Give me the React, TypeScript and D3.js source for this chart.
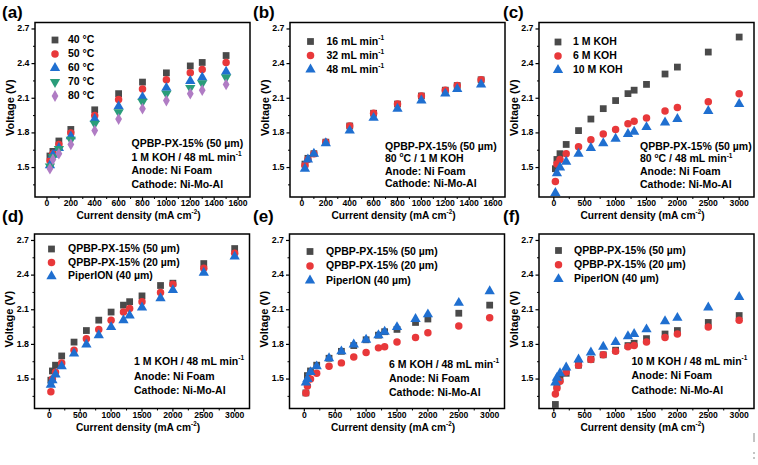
import React from "react";
import * as d3 from "d3";

// ---------- data ----------
const xA = [25, 50, 100, 200, 400, 600, 800, 1000, 1200, 1300, 1500];
const xC = [25, 50, 100, 200, 400, 600, 800, 1000, 1200, 1300, 1500, 1800, 2000, 2500, 3000];

const a40 = [1.60, 1.64, 1.73, 1.83, 2.00, 2.14, 2.24, 2.32, 2.38, 2.41, 2.47];
const a50 = [1.56, 1.62, 1.70, 1.80, 1.95, 2.09, 2.18, 2.26, 2.32, 2.35, 2.41];
const a60 = [1.52, 1.61, 1.67, 1.77, 1.92, 2.03, 2.11, 2.19, 2.25, 2.28, 2.33];
const a70 = [1.51, 1.59, 1.66, 1.74, 1.88, 1.98, 2.07, 2.14, 2.19, 2.23, 2.28];
const a80 = [1.49, 1.57, 1.62, 1.70, 1.82, 1.92, 2.01, 2.08, 2.14, 2.17, 2.22];

const b16 = [1.53, 1.58, 1.62, 1.72, 1.86, 1.97, 2.05, 2.12, 2.17, 2.21, 2.26];
const b32 = [1.52, 1.57, 1.62, 1.72, 1.86, 1.97, 2.05, 2.12, 2.17, 2.21, 2.26];
const b48 = [1.49, 1.57, 1.62, 1.71, 1.82, 1.93, 2.01, 2.08, 2.14, 2.18, 2.22];

const c1M = [1.49, 1.57, 1.62, 1.70, 1.82, 1.92, 2.01, 2.08, 2.14, 2.17, 2.22, 2.31, 2.37, 2.50, 2.63];
const c6M = [1.38, 1.53, 1.57, 1.62, 1.68, 1.74, 1.79, 1.83, 1.88, 1.90, 1.93, 1.99, 2.02, 2.07, 2.14];
const c10M = [1.28, 1.45, 1.50, 1.55, 1.62, 1.67, 1.71, 1.75, 1.79, 1.81, 1.85, 1.89, 1.92, 1.99, 2.05];

const d50 = [1.49, 1.57, 1.62, 1.70, 1.82, 1.92, 2.01, 2.08, 2.14, 2.17, 2.22, 2.31, 2.33, 2.50, 2.63];
const d20 = [1.39, 1.50, 1.56, 1.64, 1.75, 1.85, 1.93, 2.01, 2.08, 2.11, 2.17, 2.25, 2.32, 2.46, 2.59];
const dPi = [1.45, 1.49, 1.54, 1.61, 1.72, 1.80, 1.88, 1.95, 2.01, 2.05, 2.12, 2.20, 2.27, 2.42, 2.56];

const e50 = [1.38, 1.53, 1.57, 1.62, 1.68, 1.74, 1.79, 1.84, 1.88, 1.91, 1.93, 1.99, 2.02, 2.07, 2.14];
const e20 = [1.38, 1.44, 1.50, 1.55, 1.61, 1.64, 1.69, 1.73, 1.77, 1.78, 1.82, 1.86, 1.90, 1.96, 2.03];
const ePi = [1.47, 1.50, 1.56, 1.61, 1.68, 1.74, 1.80, 1.84, 1.88, 1.91, 1.95, 2.02, 2.06, 2.16, 2.26];

const f50 = [1.28, 1.45, 1.50, 1.55, 1.62, 1.67, 1.71, 1.75, 1.79, 1.81, 1.85, 1.89, 1.92, 1.99, 2.05];
const f20 = [1.37, 1.42, 1.48, 1.56, 1.62, 1.67, 1.71, 1.74, 1.78, 1.79, 1.82, 1.86, 1.89, 1.95, 2.01];
const fPi = [1.47, 1.51, 1.55, 1.60, 1.67, 1.73, 1.78, 1.82, 1.87, 1.89, 1.93, 2.00, 2.03, 2.12, 2.21];

const yTicks = [1.5, 1.8, 2.1, 2.4, 2.7];
const xTicksA = [0, 200, 400, 600, 800, 1000, 1200, 1400, 1600];
const xTicksC = [0, 500, 1000, 1500, 2000, 2500, 3000];

const tempNames = ["40 °C", "50 °C", "60 °C", "70 °C", "80 °C"];
const flowNames = ["16 mL min", "32 mL min", "48 mL min"];
const kohNames = ["1 M KOH", "6 M KOH", "10 M KOH"];
const memNames = ["QPBP-PX-15% (50 µm)", "QPBP-PX-15% (20 µm)", "PiperION (40 µm)"];

// ---------- styles ----------
const GRAY = "#4a4a4a";
const RED = "#e8383a";
const BLUE = "#1f6fd0";
const GREEN = "#2a9d7a";
const PURPLE = "#b07cc4";
const FONT = "'Liberation Sans', Arial, sans-serif";

type Shape = "square" | "circle" | "up" | "down" | "diamond";
const markerPath = (s: Shape) => {
  const map: Record<Shape, [d3.SymbolType, number]> = {
    square: [d3.symbolSquare, 46],
    circle: [d3.symbolCircle, 44],
    up: [d3.symbolTriangle, 46],
    down: [d3.symbolTriangle, 46],
    diamond: [d3.symbolDiamond, 40],
  };
  const [t, size] = map[s];
  return d3.symbol().type(t).size(size)() as string;
};

type Series = { name: string; sup?: string; values: number[]; color: string; shape: Shape };
type Ann = { parts: { t: string; sup?: boolean }[] };
type Panel = {
  label: string;
  left: number;
  top: number;
  xDomain: [number, number];
  xs: number[];
  xTicks: number[];
  xMinor: number;
  series: Series[];
  legend: { mx: number; tx: number; y0: number; dy: number };
  ann: { x: number; y0: number; dy: number; lines: Ann[] };
  labelPos: [number, number];
  titleDy: number;
};

const W = 215;
const H = 174.5;
const yDomain: [number, number] = [1.245, 2.756];

const mn = (t: string): Ann => ({ parts: [{ t }, { t: "-1", sup: true }] });

const panels: Panel[] = [
  {
    label: "(a)", left: 35, top: 22.5, xDomain: [-100, 1700], xs: xA, xTicks: xTicksA, xMinor: 100,
    series: [
      { name: tempNames[0], values: a40, color: GRAY, shape: "square" },
      { name: tempNames[1], values: a50, color: RED, shape: "circle" },
      { name: tempNames[2], values: a60, color: BLUE, shape: "up" },
      { name: tempNames[3], values: a70, color: GREEN, shape: "down" },
      { name: tempNames[4], values: a80, color: PURPLE, shape: "diamond" },
    ],
    legend: { mx: 55, tx: 68, y0: 40, dy: 14 },
    ann: { x: 131.5, y0: 144, dy: 13.5, lines: [
      { parts: [{ t: "QPBP-PX-15% (50 µm)" }] },
      mn("1 M KOH / 48 mL min"),
      { parts: [{ t: "Anode: Ni Foam" }] },
      { parts: [{ t: "Cathode: Ni-Mo-Al" }] },
    ] },
    labelPos: [2, 18],
    titleDy: 18.5,
  },
  {
    label: "(b)", left: 290, top: 22.5, xDomain: [-100, 1700], xs: xA, xTicks: xTicksA, xMinor: 100,
    series: [
      { name: flowNames[0], sup: "-1", values: b16, color: GRAY, shape: "square" },
      { name: flowNames[1], sup: "-1", values: b32, color: RED, shape: "circle" },
      { name: flowNames[2], sup: "-1", values: b48, color: BLUE, shape: "up" },
    ],
    legend: { mx: 310.5, tx: 326.5, y0: 41.5, dy: 14 },
    ann: { x: 385, y0: 146.5, dy: 12.5, lines: [
      { parts: [{ t: "QPBP-PX-15% (50 µm)" }] },
      { parts: [{ t: "80 " }, { t: "o", sup: true }, { t: "C / 1 M KOH" }] },
      { parts: [{ t: "Anode: Ni Foam" }] },
      { parts: [{ t: "Cathode: Ni-Mo-Al" }] },
    ] },
    labelPos: [253, 18],
    titleDy: 18.5,
  },
  {
    label: "(c)", left: 539, top: 22.5, xDomain: [-240, 3240], xs: xC, xTicks: xTicksC, xMinor: 250,
    series: [
      { name: kohNames[0], values: c1M, color: GRAY, shape: "square" },
      { name: kohNames[1], values: c6M, color: RED, shape: "circle" },
      { name: kohNames[2], values: c10M, color: BLUE, shape: "up" },
    ],
    legend: { mx: 558, tx: 573, y0: 42, dy: 14 },
    ann: { x: 640, y0: 146.5, dy: 12.7, lines: [
      { parts: [{ t: "QPBP-PX-15% (50 µm)" }] },
      { parts: [{ t: "80 " }, { t: "o", sup: true }, { t: "C / 48 mL min" }, { t: "-1", sup: true }] },
      { parts: [{ t: "Anode: Ni Foam" }] },
      { parts: [{ t: "Cathode: Ni-Mo-Al" }] },
    ] },
    labelPos: [503, 18],
    titleDy: 18.5,
  },
  {
    label: "(d)", left: 34.5, top: 234, xDomain: [-240, 3240], xs: xC, xTicks: xTicksC, xMinor: 250,
    series: [
      { name: memNames[0], values: d50, color: GRAY, shape: "square" },
      { name: memNames[1], values: d20, color: RED, shape: "circle" },
      { name: memNames[2], values: dPi, color: BLUE, shape: "up" },
    ],
    legend: { mx: 51.5, tx: 68, y0: 249, dy: 13.6 },
    ann: { x: 134, y0: 362, dy: 14.5, lines: [
      mn("1 M KOH / 48 mL min"),
      { parts: [{ t: "Anode: Ni Foam" }] },
      { parts: [{ t: "Cathode: Ni-Mo-Al" }] },
    ] },
    labelPos: [2, 222],
    titleDy: 19,
  },
  {
    label: "(e)", left: 289.5, top: 234, xDomain: [-240, 3240], xs: xC, xTicks: xTicksC, xMinor: 250,
    series: [
      { name: memNames[0], values: e50, color: GRAY, shape: "square" },
      { name: memNames[1], values: e20, color: RED, shape: "circle" },
      { name: memNames[2], values: ePi, color: BLUE, shape: "up" },
    ],
    legend: { mx: 310, tx: 326, y0: 251.5, dy: 14.5 },
    ann: { x: 389, y0: 364.5, dy: 14, lines: [
      mn("6 M KOH / 48 mL min"),
      { parts: [{ t: "Anode: Ni Foam" }] },
      { parts: [{ t: "Cathode: Ni-Mo-Al" }] },
    ] },
    labelPos: [253, 222],
    titleDy: 19,
  },
  {
    label: "(f)", left: 539, top: 234, xDomain: [-240, 3240], xs: xC, xTicks: xTicksC, xMinor: 250,
    series: [
      { name: memNames[0], values: f50, color: GRAY, shape: "square" },
      { name: memNames[1], values: f20, color: RED, shape: "circle" },
      { name: memNames[2], values: fPi, color: BLUE, shape: "up" },
    ],
    legend: { mx: 558.5, tx: 574, y0: 250.5, dy: 14.3 },
    ann: { x: 631.5, y0: 362, dy: 14.3, lines: [
      mn("10 M KOH / 48 mL min"),
      { parts: [{ t: "Anode: Ni Foam" }] },
      { parts: [{ t: "Cathode: Ni-Mo-Al" }] },
    ] },
    labelPos: [503, 222],
    titleDy: 19,
  },
];

const Marker = ({ x, y, s, color }: { x: number; y: number; s: Shape; color: string }) => (
  <path
    d={markerPath(s)}
    transform={`translate(${x},${y})${s === "down" ? " rotate(180)" : ""}`}
    fill={color}
  />
);

const SupText = ({ x, y, parts, size, anchor }: { x: number; y: number; parts: { t: string; sup?: boolean }[]; size: number; anchor?: string }) => (
  <text x={x} y={y} fontFamily={FONT} fontWeight="bold" fontSize={size} dominantBaseline="middle" textAnchor={anchor || "start"} fill="#000">
    {parts.map((p, i) =>
      p.sup ? (
        <tspan key={i} fontSize={size * 0.62} dy={-size * 0.34}>{p.t}</tspan>
      ) : (
        <tspan key={i} dy={i > 0 && parts[i - 1].sup ? size * 0.34 : 0}>{p.t}</tspan>
      )
    )}
  </text>
);

const PanelView = ({ p }: { p: Panel }) => {
  const x = d3.scaleLinear().domain(p.xDomain).range([p.left, p.left + W]);
  const y = d3.scaleLinear().domain(yDomain).range([p.top + H, p.top]);
  const bottom = p.top + H;
  const xMinorTicks = d3.range(Math.ceil(p.xDomain[0] / p.xMinor) * p.xMinor, p.xDomain[1] + 1e-9, p.xMinor)
    .filter((v) => !p.xTicks.includes(v) && v > p.xDomain[0] && v < p.xDomain[1]);
  const yMinor = d3.range(1.35, 2.76, 0.3);
  const cx = p.left + W / 2;
  return (
    <g>
      <text x={p.labelPos[0]} y={p.labelPos[1]} fontFamily={FONT} fontWeight="bold" fontSize={17}>{p.label}</text>
      {/* ticks */}
      {p.xTicks.map((t) => (
        <g key={"x" + t}>
          <line x1={x(t)} x2={x(t)} y1={bottom} y2={bottom + 3} stroke="#000" strokeWidth={1.2} />
          <text x={x(t)} y={bottom + 7} textAnchor="middle" dominantBaseline="middle" fontFamily={FONT} fontWeight="bold" fontSize={8.6}>{t}</text>
        </g>
      ))}
      {xMinorTicks.map((t) => (
        <line key={"xm" + t} x1={x(t)} x2={x(t)} y1={bottom} y2={bottom + 2} stroke="#000" strokeWidth={1} />
      ))}
      {yTicks.map((t) => (
        <g key={"y" + t}>
          <line x1={p.left - 3.5} x2={p.left} y1={y(t)} y2={y(t)} stroke="#000" strokeWidth={1.2} />
          <text x={p.left - 5.5} y={y(t)} textAnchor="end" dominantBaseline="middle" fontFamily={FONT} fontWeight="bold" fontSize={8.8}>{t.toFixed(1)}</text>
        </g>
      ))}
      {yMinor.map((t) => (
        <line key={"ym" + t} x1={p.left - 2} x2={p.left} y1={y(t)} y2={y(t)} stroke="#000" strokeWidth={1} />
      ))}
      {/* axis titles */}
      <SupText x={cx - 4} y={bottom + p.titleDy} size={10.2} anchor="middle" parts={[{ t: "Current density (mA cm" }, { t: "-2", sup: true }, { t: ")" }]} />
      <text
        transform={`translate(${p.left - 24},${p.top + H / 2 - 2}) rotate(-90)`}
        textAnchor="middle" dominantBaseline="middle" fontFamily={FONT} fontWeight="bold" fontSize={11}
      >Voltage (V)</text>
      {/* data */}
      {p.series.map((s, si) => (
        <g key={"s" + si}>
          {s.values.map((v, i) => (
            <Marker key={i} x={x(p.xs[i])} y={y(v)} s={s.shape} color={s.color} />
          ))}
        </g>
      ))}
      {/* legend */}
      {p.series.map((s, si) => (
        <g key={"l" + si}>
          <Marker x={p.legend.mx} y={p.legend.y0 + si * p.legend.dy} s={s.shape} color={s.color} />
          <SupText x={p.legend.tx} y={p.legend.y0 + si * p.legend.dy} size={10.5}
            parts={s.sup ? [{ t: s.name }, { t: s.sup, sup: true }] : [{ t: s.name }]} />
        </g>
      ))}
      {/* annotation */}
      {p.ann.lines.map((l, i) => (
        <SupText key={"a" + i} x={p.ann.x} y={p.ann.y0 + i * p.ann.dy} size={10.5} parts={l.parts} />
      ))}
      {/* frame */}
      <rect x={p.left} y={p.top} width={W} height={H} fill="none" stroke="#000" strokeWidth={1.5} />
    </g>
  );
};

export default function App() {
  return (
    <svg width={758} height={465} style={{ position: "absolute", left: 0, top: 0, background: "#fff" }}>
      <rect x={0} y={0} width={758} height={465} fill="#fff" />
      {panels.map((p) => (
        <PanelView key={p.label} p={p} />
      ))}
      <line x1={754} x2={754} y1={433} y2={442} stroke="#888" strokeWidth={1} />
      <line x1={754} x2={754} y1={452} y2={454} stroke="#888" strokeWidth={1} />
      <line x1={754} x2={754} y1={457} y2={459} stroke="#888" strokeWidth={1} />
    </svg>
  );
}
